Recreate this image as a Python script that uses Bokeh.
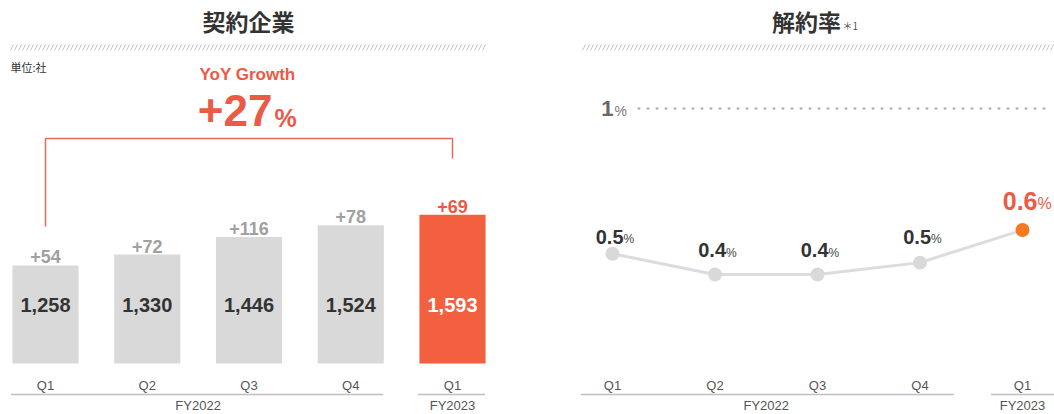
import numpy as np
from bokeh.plotting import figure
from bokeh.layouts import row
from bokeh.models import Range1d
from bokeh.core.properties import value
from bokeh.embed import file_html
from bokeh.resources import INLINE

# ---------------- data ----------------
quarters = ["Q1", "Q2", "Q3", "Q4", "Q1"]
fiscal_groups = ["FY2022", "FY2023"]
group_members = [[0, 1, 2, 3], [4]]
companies = [1258, 1330, 1446, 1524, 1593]
net_adds = [54, 72, 116, 78, 69]
yoy_growth = 27
churn_rate = [0.51, 0.44, 0.44, 0.48, 0.59]
churn_reference = 1.0

# label styling (pixel lift of churn labels above their points)
label_lift = [17, 24, 24, 26, 29]

LATIN = value("Liberation Sans")
CJK = value("Noto Sans CJK JP")
RED = "#F2603F"
RED_TXT = "#EC5A46"
GRAY_BAR = "#D9D9D9"
DARK = "#333333"

H = 414
idx = list(range(len(quarters)))
last = len(quarters) - 1

# ---------------- left: contracted companies ----------------
LW = 554
L_STEP = 101.75
L_X0 = 45.0
BASE = 610
KY = 0.1513
L_BOT = 363.0
lxs = -L_X0 / L_STEP

left = figure(width=LW, height=H,
              x_range=Range1d(lxs, lxs + LW / L_STEP),
              y_range=Range1d(BASE - (H - L_BOT) / KY, BASE + L_BOT / KY),
              x_axis_type=None, y_axis_type=None, toolbar_location=None,
              output_backend="svg", min_border=0, outline_line_color=None)


def lx(px):
    return lxs + px / L_STEP


def ly(py):
    return BASE + (L_BOT - py) / KY


# title + hatch
left.text(x=[lx(248)], y=[ly(20)], text=["契約企業"], text_font=CJK, text_font_style="bold",
          text_font_size="23px", text_color=DARK, text_align="center", text_baseline="middle")
hx = np.arange(10, 486, 4)
left.segment(x0=[lx(v) for v in hx], y0=[ly(50)] * len(hx), x1=[lx(v + 3) for v in hx],
             y1=[ly(44)] * len(hx), line_color="#C8C8C8", line_width=1)
left.text(x=[lx(10)], y=[ly(66)], text=["単位:社"], text_font=CJK, text_font_size="11px",
          text_color=DARK, text_align="left", text_baseline="middle")

# YoY growth annotation
left.text(x=[lx(247)], y=[ly(74)], text=["YoY Growth"], text_font=LATIN, text_font_style="bold",
          text_font_size="17px", text_color=RED_TXT, text_align="center", text_baseline="middle")
left.text(x=[lx(272)], y=[ly(110)], text=[f"+{yoy_growth}"], text_font=LATIN, text_font_style="bold",
          text_font_size="44px", text_color=RED_TXT, text_align="right", text_baseline="middle")
left.text(x=[lx(274)], y=[ly(117)], text=["%"], text_font=LATIN, text_font_style="bold",
          text_font_size="25px", text_color=RED_TXT, text_align="left", text_baseline="middle")
left.line(x=[0, 0, last, last], y=[ly(226), ly(138), ly(138), ly(158)],
          line_color="#E86A5C", line_width=1.5)

# bars
bar_colors = [GRAY_BAR] * last + [RED]
left.vbar(x=idx, top=companies, bottom=BASE, width=0.65, fill_color=bar_colors, line_color=None)
left.text(x=idx, y=[ly(304)] * len(idx), text=[f"{c:,}" for c in companies], text_font=LATIN,
          text_font_style="bold", text_font_size="20px",
          text_color=[DARK] * last + ["#FFFFFF"], text_align="center", text_baseline="middle")
left.text(x=idx, y=[c + 8.5 / KY for c in companies], text=[f"+{a}" for a in net_adds], text_font=LATIN,
          text_font_style="bold", text_font_size="18px",
          text_color=["#A0A0A0"] * last + [RED_TXT], text_align="center", text_baseline="middle")

# x labels
left.text(x=idx, y=[ly(385)] * len(idx), text=quarters, text_font=LATIN, text_font_size="13px",
          text_color="#555555", text_align="center", text_baseline="middle")
for g, mem in zip(fiscal_groups, group_members):
    left.line(x=[mem[0] - 0.34, mem[-1] + 0.32], y=[ly(394)] * 2, line_color="#BFBFBF", line_width=1.5)
    left.text(x=[(mem[0] + mem[-1]) / 2], y=[ly(405)], text=[g], text_font=LATIN, text_font_size="13px",
              text_color="#555555", text_align="center", text_baseline="middle")

# ---------------- right: churn rate ----------------
RW = 500
R_STEP = 102.5
R_X0 = 58.0
KY2 = 296.4
R_REF = 108.0
rxs = -R_X0 / R_STEP

right = figure(width=RW, height=H,
               x_range=Range1d(rxs, rxs + RW / R_STEP),
               y_range=Range1d(1 - (H - R_REF) / KY2, 1 + R_REF / KY2),
               x_axis_type=None, y_axis_type=None, toolbar_location=None,
               output_backend="svg", min_border=0, outline_line_color=None)


def rx(px):
    return rxs + (px - 554) / R_STEP


def ry(py):
    return 1 + (R_REF - py) / KY2


right.text(x=[rx(806)], y=[ry(20)], text=["解約率"], text_font=CJK, text_font_style="bold",
           text_font_size="23px", text_color=DARK, text_align="center", text_baseline="middle")
right.text(x=[rx(842)], y=[ry(25)], text=["＊1"], text_font=CJK,
           text_font_size="10px", text_color="#555555", text_align="left", text_baseline="middle")
hx2 = np.arange(582, 1054, 4)
right.segment(x0=[rx(v) for v in hx2], y0=[ry(50)] * len(hx2), x1=[rx(v + 3) for v in hx2],
              y1=[ry(44)] * len(hx2), line_color="#C8C8C8", line_width=1)

# 1% reference
right.text(x=[rx(613)], y=[churn_reference], text=[f"{churn_reference:g}"], text_font=LATIN,
           text_font_style="bold", text_font_size="22px", text_color="#666666",
           text_align="right", text_baseline="middle")
right.text(x=[rx(614)], y=[churn_reference - 2.5 / KY2], text=["%"], text_font=LATIN,
           text_font_size="14px", text_color="#777777", text_align="left", text_baseline="middle")
right.line(x=[rx(638), rx(1046)], y=[churn_reference] * 2, line_color="#A6A6A6", line_width=2,
           line_dash="1 8", line_cap="round")

# churn line
right.line(x=idx, y=churn_rate, line_color="#DCDCDC", line_width=3)
right.scatter(x=idx, y=churn_rate, size=14, fill_color=[GRAY_BAR] * last + ["#F57A1F"], line_color=None)

j = [11 / R_STEP] * last + [15 / R_STEP]
right.text(x=[i + d for i, d in zip(idx, j)], y=[v + o / KY2 for v, o in zip(churn_rate, label_lift)],
           text=[f"{v:.1f}" for v in churn_rate], text_font=LATIN, text_font_style="bold",
           text_font_size=["20px"] * last + ["25px"], text_color=[DARK] * last + [RED_TXT],
           text_align="right", text_baseline="middle")
right.text(x=[i + d for i, d in zip(idx, j)],
           y=[v + (o - 2.5) / KY2 for v, o in zip(churn_rate, label_lift)],
           text=["%"] * len(idx), text_font=LATIN,
           text_font_size=["12px"] * last + ["16px"], text_color=["#444444"] * last + [RED_TXT],
           text_align="left", text_baseline="middle")

right.text(x=idx, y=[ry(385)] * len(idx), text=quarters, text_font=LATIN, text_font_size="13px",
           text_color="#555555", text_align="center", text_baseline="middle")
for g, mem in zip(fiscal_groups, group_members):
    right.line(x=[mem[0] - 0.31, mem[-1] + 0.33 if mem[-1] < last else mem[-1] + 0.5],
               y=[ry(394)] * 2, line_color="#BFBFBF", line_width=1.5)
    right.text(x=[(mem[0] + mem[-1]) / 2], y=[ry(405)], text=[g], text_font=LATIN, text_font_size="13px",
               text_color="#555555", text_align="center", text_baseline="middle")

layout = row(left, right, spacing=0)
open("out.html", "w").write(file_html(layout, INLINE))
